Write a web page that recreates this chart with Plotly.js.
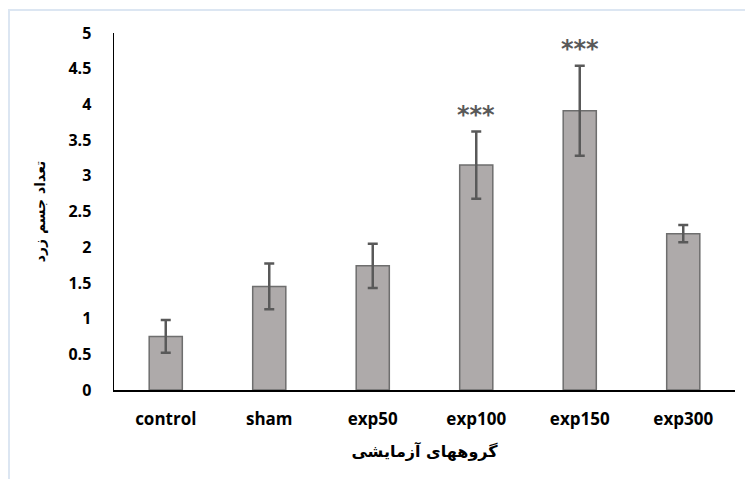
<!DOCTYPE html>
<html>
<head>
<meta charset="utf-8">
<script src="https://cdn.plot.ly/plotly-3.0.1.min.js"></script>
<style>
  html, body { margin: 0; padding: 0; background: #fff; }
  #chart { width: 745px; height: 479px; }
  #frame { position: absolute; left: 8px; top: 9px; width: 745px; height: 480px;
           border-left: 2px solid #dce6f2; border-top: 2px solid #dce6f2; pointer-events: none; }
</style>
</head>
<body>
<div id="chart"></div>
<div id="frame"></div>
<script>
const categories = ["control", "sham", "exp50", "exp100", "exp150", "exp300"];
const means = [0.75, 1.45, 1.74, 3.15, 3.91, 2.19];
const errors = [0.23, 0.32, 0.31, 0.47, 0.63, 0.12];
const sigLabels = ["", "", "", "***", "***", ""];
const yTitle = "تعداد جسم زرد";
const xTitle = "گروههای آزمایشی";

const trace = {
  type: "bar",
  x: categories,
  y: means,
  marker: { color: "#aeaaaa", line: { color: "#6e6e6e", width: 1.5 } },
  error_y: { type: "data", array: errors, visible: true, color: "#595959", thickness: 2.5, width: 5 },
  hoverinfo: "none"
};

const annotations = [];
categories.forEach((c, i) => {
  if (sigLabels[i]) {
    annotations.push({
      x: c, y: means[i] + errors[i], xref: "x", yref: "y",
      text: sigLabels[i], showarrow: false, yanchor: "bottom", yshift: 1,
      font: { family: "DejaVu Sans", size: 24, color: "#595959", weight: "bold" }
    });
  }
});

const layout = {
  width: 745, height: 479,
  margin: { l: 114, r: 10, t: 33, b: 89 },
  paper_bgcolor: "#ffffff", plot_bgcolor: "#ffffff",
  bargap: 0.68,
  showlegend: false,
  font: { family: "Open Sans", color: "#000" },
  xaxis: {
    type: "category",
    showline: true, linecolor: "#000", linewidth: 1.5,
    showgrid: false, zeroline: false,
    ticks: "outside", ticklen: 13, tickcolor: "rgba(0,0,0,0)",
    tickfont: { family: "Open Sans", size: 17, weight: "bold", color: "#000" },
    title: { text: xTitle, standoff: 17, font: { family: "DejaVu Sans", size: 16, weight: "bold", color: "#000" } }
  },
  yaxis: {
    range: [0, 5], dtick: 0.5, tick0: 0,
    showline: true, linecolor: "#000", linewidth: 1.5,
    showgrid: false, zeroline: false,
    ticks: "outside", ticklen: 18, tickcolor: "rgba(0,0,0,0)",
    tickfont: { family: "Open Sans", size: 16, weight: "bold", color: "#000" },
    title: { text: yTitle, standoff: 19, font: { family: "DejaVu Sans", size: 14, weight: "bold", color: "#000" } }
  },
  annotations: annotations
};

Plotly.newPlot("chart", [trace], layout, { displayModeBar: false, staticPlot: true });
</script>
</body>
</html>
